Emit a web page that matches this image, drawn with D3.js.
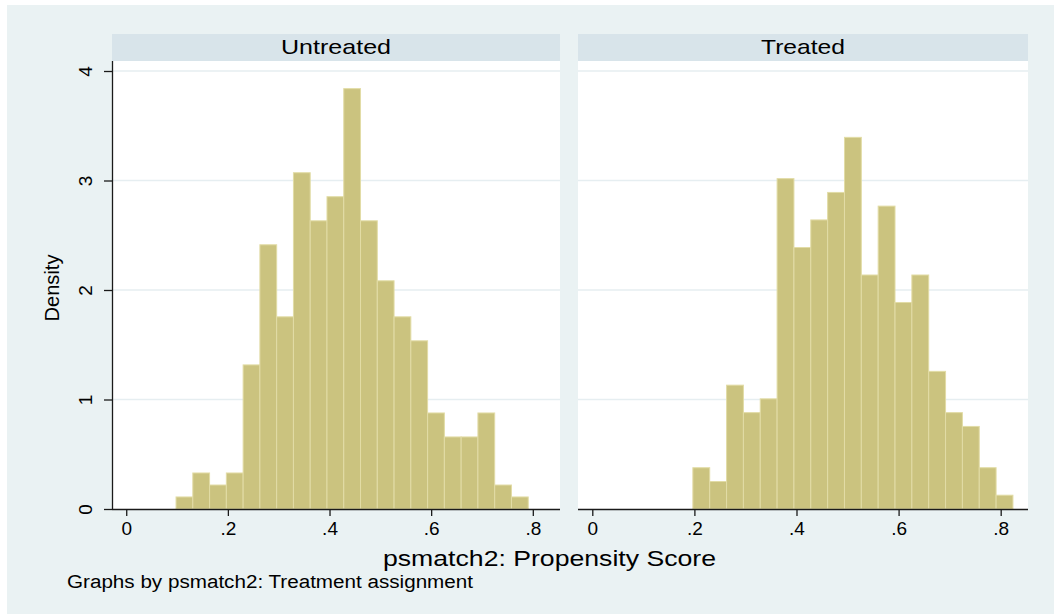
<!DOCTYPE html>
<html>
<head>
<meta charset="utf-8">
<script src="https://cdn.jsdelivr.net/npm/d3@7"></script>
<style>
  html, body { margin: 0; padding: 0; background: #ffffff; }
  svg { display: block; font-family: "Liberation Sans", Arial, sans-serif; }
</style>
</head>
<body>
<svg id="chart" width="1054" height="614"></svg>
<script>
// Histogram bin edges (shared by both panels)
const binEdges = [0.098, 0.131, 0.164, 0.197, 0.230, 0.263, 0.296, 0.329, 0.362, 0.395, 0.428,
                  0.461, 0.494, 0.527, 0.560, 0.593, 0.626, 0.659, 0.692, 0.725, 0.758, 0.791, 0.824];

const groups = ["Untreated", "Treated"];

// Density per bin
const untreatedDensity = [0.110, 0.329, 0.219, 0.329, 1.316, 2.413, 1.755, 3.071, 2.632, 2.852, 3.839,
                          2.632, 2.084, 1.755, 1.536, 0.877, 0.658, 0.658, 0.877, 0.219, 0.110, 0];
const treatedDensity   = [0, 0, 0, 0.377, 0.251, 1.131, 0.880, 1.006, 3.017, 2.388, 2.640,
                          2.891, 3.394, 2.137, 2.766, 1.886, 2.137, 1.257, 0.880, 0.754, 0.377, 0.126];

const xTickValues = [0, 0.2, 0.4, 0.6, 0.8];
const xTickLabels = ["0", ".2", ".4", ".6", ".8"];
const yTickValues = [0, 1, 2, 3, 4];
const yTickLabels = ["0", "1", "2", "3", "4"];

const xTitle = "psmatch2: Propensity Score";
const yTitle = "Density";
const note = "Graphs by psmatch2: Treatment assignment";

const svg = d3.select("#chart");
const W = 1054, H = 614;

// outer graph region
svg.append("rect").attr("x", 7).attr("y", 5).attr("width", W - 7).attr("height", H - 5)
  .attr("fill", "#eaf2f3");

const panels = [
  { name: groups[0], values: untreatedDensity, left: 112, right: 560, yAxis: true, labelWidth: 110 },
  { name: groups[1], values: treatedDensity,   left: 578, right: 1028, yAxis: false, labelWidth: 84 }
];

const plotTop = 61, plotBottom = 509, stripTop = 34;
const y = d3.scaleLinear().domain([0, 4]).range([plotBottom, 71]);

panels.forEach(p => {
  const x = d3.scaleLinear().domain([-0.028, 0.8535]).range([p.left, p.right]);
  const g = svg.append("g");

  // strip header
  g.append("rect").attr("x", p.left).attr("y", stripTop)
    .attr("width", p.right - p.left).attr("height", plotTop - stripTop)
    .attr("fill", "#d8e4ea");
  g.append("text").attr("x", (p.left + p.right) / 2).attr("y", 54)
    .attr("text-anchor", "middle").attr("font-size", 21).attr("fill", "#000")
    .attr("textLength", p.labelWidth).attr("lengthAdjust", "spacingAndGlyphs")
    .text(p.name);

  // plot region
  g.append("rect").attr("x", p.left).attr("y", plotTop)
    .attr("width", p.right - p.left).attr("height", plotBottom - plotTop)
    .attr("fill", "#ffffff");

  // gridlines
  g.selectAll("line.grid").data(yTickValues.filter(v => v > 0)).join("line")
    .attr("class", "grid")
    .attr("x1", p.left).attr("x2", p.right)
    .attr("y1", d => y(d)).attr("y2", d => y(d))
    .attr("stroke", "#e6eef1").attr("stroke-width", 1.5);

  // bars
  const bins = p.values.map((v, i) => ({ x0: binEdges[i], x1: binEdges[i + 1], v }))
    .filter(d => d.v > 0);
  g.selectAll("rect.bar").data(bins).join("rect")
    .attr("class", "bar")
    .attr("x", d => x(d.x0)).attr("width", d => x(d.x1) - x(d.x0))
    .attr("y", d => y(d.v)).attr("height", d => y(0) - y(d.v))
    .attr("fill", "#cbc37f").attr("stroke", "#e2dca6").attr("stroke-width", 1);

  // x axis
  const xAxis = d3.axisBottom(x).tickValues(xTickValues)
    .tickFormat((d, i) => xTickLabels[i]).tickSize(7).tickSizeOuter(0).tickPadding(4);
  const xa = g.append("g").attr("transform", `translate(0,${plotBottom})`).call(xAxis);
  xa.select(".domain").attr("stroke", "#1a1a1a").attr("stroke-width", 1.3)
    .attr("d", `M${p.left},0.5H${p.right}`);
  xa.selectAll(".tick line").attr("stroke", "#1a1a1a").attr("stroke-width", 1.3);
  xa.selectAll(".tick text").attr("font-size", 19).attr("fill", "#000")
    .attr("font-family", "Liberation Sans, Arial, sans-serif")
    .attr("y", 13);

  // y axis (left panel only)
  if (p.yAxis) {
    const yAxis = d3.axisLeft(y).tickValues(yTickValues)
      .tickFormat((d, i) => yTickLabels[i]).tickSize(8).tickSizeOuter(0);
    const ya = g.append("g").attr("transform", `translate(${p.left},0)`).call(yAxis);
    ya.select(".domain").attr("stroke", "#1a1a1a").attr("stroke-width", 1.3)
      .attr("d", `M0.5,${plotTop}V${plotBottom}`);
    ya.selectAll(".tick line").attr("stroke", "#1a1a1a").attr("stroke-width", 1.3);
    ya.selectAll(".tick text")
      .attr("font-size", 19).attr("fill", "#000")
      .attr("font-family", "Liberation Sans, Arial, sans-serif")
      .attr("x", null).attr("dy", null)
      .attr("text-anchor", "middle")
      .attr("transform", "translate(-20,0) rotate(-90)");
  }
});

// axis titles and note
svg.append("text").attr("x", 549.5).attr("y", 566)
  .attr("text-anchor", "middle").attr("font-size", 22)
  .attr("textLength", 333).attr("lengthAdjust", "spacingAndGlyphs")
  .text(xTitle);

svg.append("text").attr("transform", "translate(59,288) rotate(-90)")
  .attr("text-anchor", "middle").attr("font-size", 21)
  .attr("textLength", 67).attr("lengthAdjust", "spacingAndGlyphs")
  .text(yTitle);

svg.append("text").attr("x", 67).attr("y", 588)
  .attr("font-size", 18).attr("textLength", 406).attr("lengthAdjust", "spacingAndGlyphs")
  .text(note);
</script>
</body>
</html>
